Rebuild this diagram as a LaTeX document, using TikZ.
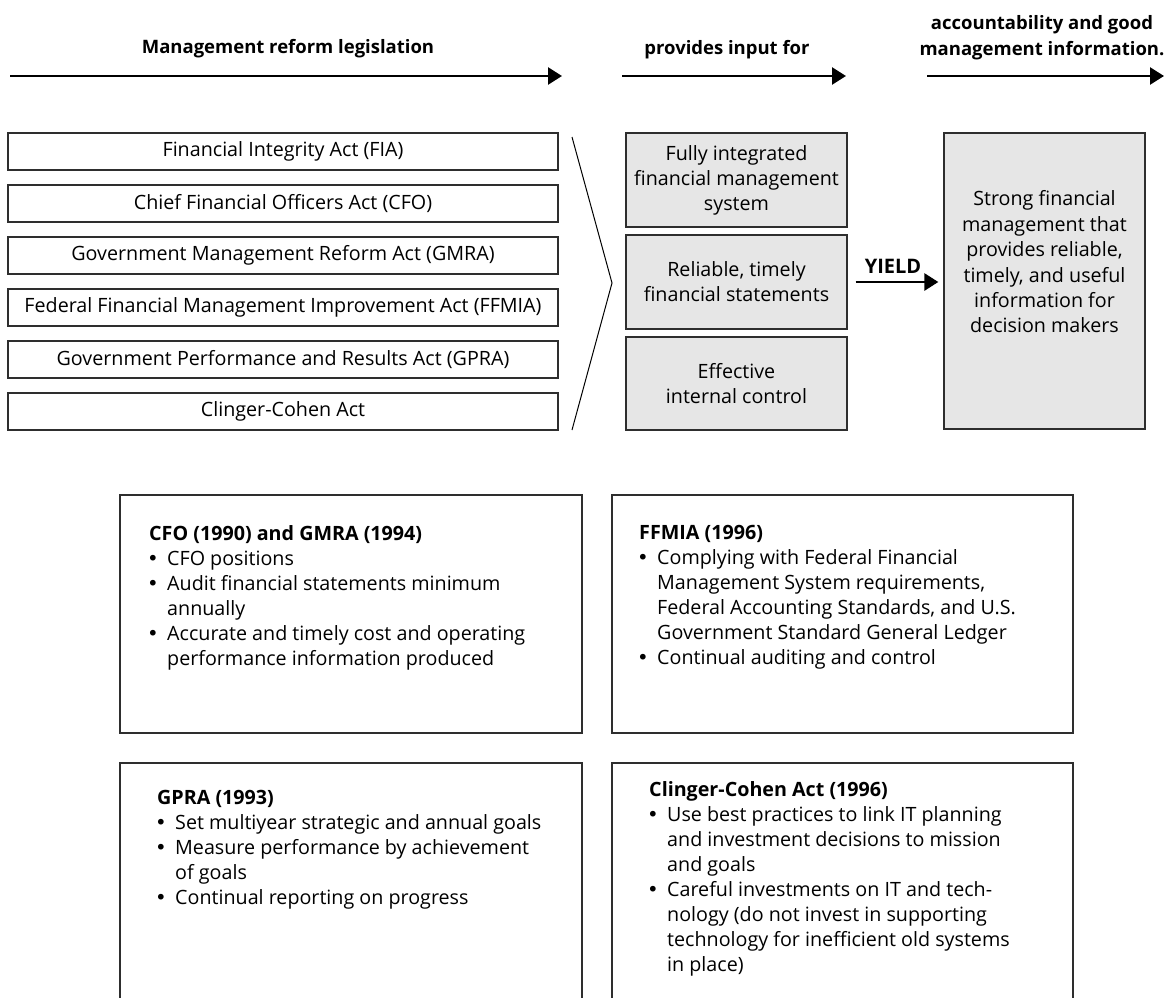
\documentclass[tikz,border=0pt]{standalone}
\usepackage{fontspec}
\setmainfont{Open Sans}
\newfontfamily\bulfont{DejaVu Sans}
\usetikzlibrary{arrows.meta}
\definecolor{boxgray}{HTML}{E6E6E6}
\definecolor{edgecol}{HTML}{2E2E2E}
\newcommand\mysz{\fontsize{19.7}{25}\selectfont}
\newcommand\myhd{\fontsize{18.5}{26}\selectfont\bfseries}
\newcommand\mybul{\makebox[18pt][l]{\hspace{-2pt}{\bulfont •}}}
\newcommand\myind{\hspace*{18pt}}
\begin{document}
\begin{tikzpicture}[x=1pt,y=-1pt,
  hdr/.style={font=\myhd, inner sep=0pt},
  arr/.style={line width=2.6pt, -{Triangle[length=14pt,width=17pt]}},
  actbox/.style={draw=edgecol, line width=1.3pt, minimum width=550pt, minimum height=37pt, inner sep=0pt, font=\mysz},
  graybox/.style={draw=edgecol, fill=boxgray, line width=1.3pt, minimum width=221pt, inner sep=0pt, align=center, font=\mysz},
  notebox/.style={draw=edgecol, line width=1.3pt, inner sep=0pt},
  notetext/.style={anchor=north west, inner sep=0pt, align=left, font=\mysz}]
\useasboundingbox (0,0) rectangle (1165,998);
\clip (0,0) rectangle (1165,998);

% headers
\node[hdr, anchor=base] (h1) at (288,54) {Management reform legislation};
\node[hdr, anchor=base] (h2) at (727,55) {provides input for};
\node[hdr, anchor=north, align=center] (h3) at (1042,10.8) {\strut accountability and good\\\strut management information.};

\coordinate (a1s) at (10,76);  \coordinate (a1e) at (562,76);
\coordinate (a2s) at (622,76); \coordinate (a2e) at (846,76);
\coordinate (a3s) at (927,76); \coordinate (a3e) at (1164,76);
\draw[arr] (a1s) -- (a1e);
\draw[arr] (a2s) -- (a2e);
\draw[arr] (a3s) -- (a3e);

% legislation boxes
\node[actbox] (l1) at (283,151.5) {Financial Integrity Act (FIA)};
\node[actbox] (l2) at (283,203.5) {Chief Financial Officers Act (CFO)};
\node[actbox] (l3) at (283,255.5) {Government Management Reform Act (GMRA)};
\node[actbox] (l4) at (283,307.5) {Federal Financial Management Improvement Act (FFMIA)};
\node[actbox] (l5) at (283,359.5) {Government Performance and Results Act (GPRA)};
\node[actbox] (l6) at (283,411.5) {Clinger-Cohen Act};

% chevron
\coordinate (c1) at (572,137);
\coordinate (c2) at (612,283);
\coordinate (c3) at (572,430);
\draw[line width=1pt] (c1) -- (c2) -- (c3);

% middle boxes
\node[graybox, minimum height=94pt] (m1) at (736.5,180) {Fully integrated\\financial management\\system};
\node[graybox, minimum height=94pt] (m2) at (736.5,282) {Reliable, timely\\financial statements};
\node[graybox, minimum height=93pt] (m3) at (736.5,383.5) {Effective\\internal control};

% result box
\node[draw=edgecol, fill=boxgray, line width=1.3pt, minimum width=201pt, minimum height=296pt, inner sep=0pt] (r) at (1044.5,281) {};
\node[anchor=north, align=center, font=\fontsize{19.7}{25.4}\selectfont, inner sep=0pt] (rt) at (1044.5,188)
  {\strut Strong financial\\\strut management that\\\strut provides reliable,\\\strut timely, and useful\\\strut information for\\\strut decision makers};

% yield arrow
\node[font=\fontsize{20}{24}\selectfont\bfseries, anchor=base, inner sep=0pt] (yl) at (893,273.5) {YIELD};
\draw[line width=2.8pt, -{Triangle[length=14pt,width=17pt]}, shorten <=8pt, shorten >=5pt] (m2.east) -- (m2.east -| r.west);

% lower note boxes
\node[notebox, minimum width=462pt, minimum height=238pt] (b1) at (351,614) {};
\node[notebox, minimum width=461pt, minimum height=238pt] (b2) at (842.5,614) {};
\node[notebox, minimum width=462pt, minimum height=260pt] (b3) at (351,893) {};
\node[notebox, minimum width=461pt, minimum height=260pt] (b4) at (842.5,893) {};

\node[notetext] (t1) at (149,522.5) {\strut\textbf{CFO (1990) and GMRA (1994)}\\
\strut\mybul CFO positions\\
\strut\mybul Audit financial statements minimum\\
\strut\myind annually\\
\strut\mybul Accurate and timely cost and operating\\
\strut\myind performance information produced};

\node[notetext] (t2) at (639,521.5) {\strut\textbf{FFMIA (1996)}\\
\strut\mybul Complying with Federal Financial\\
\strut\myind Management System requirements,\\
\strut\myind Federal Accounting Standards, and U.S.\\
\strut\myind Government Standard General Ledger\\
\strut\mybul Continual auditing and control};

\node[notetext] (t3) at (157,786.5) {\strut\textbf{GPRA (1993)}\\
\strut\mybul Set multiyear strategic and annual goals\\
\strut\mybul Measure performance by achievement\\
\strut\myind of goals\\
\strut\mybul Continual reporting on progress};

\node[notetext] (t4) at (649,778.5) {\strut\textbf{Clinger-Cohen Act (1996)}\\
\strut\mybul Use best practices to link IT planning\\
\strut\myind and investment decisions to mission\\
\strut\myind and goals\\
\strut\mybul Careful investments on IT and tech-\\
\strut\myind nology (do not invest in supporting\\
\strut\myind technology for inefficient old systems\\
\strut\myind in place)};
\end{tikzpicture}
\end{document}
